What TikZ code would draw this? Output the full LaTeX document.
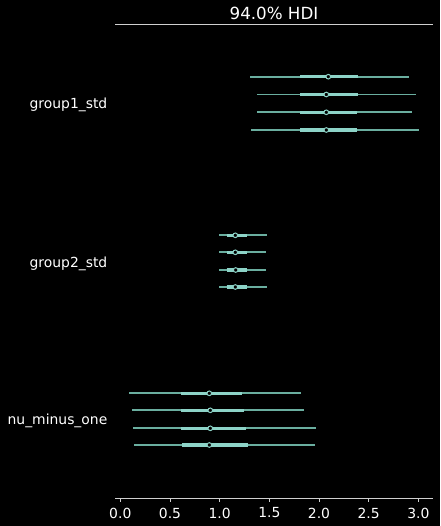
\documentclass[tikz,border=0pt]{standalone}
\usepackage{fontspec}
\setmainfont{DejaVu Sans}
\definecolor{thinc}{HTML}{6AAE9F}
\definecolor{thickc}{HTML}{8DD3C7}
\definecolor{axc}{HTML}{D0D0D0}
\tikzset{
  thinline/.style={draw=thinc, line width=1.9pt},
  thickline/.style={draw=thickc, line width=3.4pt},
  meddot/.style={draw=thickc, fill=black, line width=1pt},
  lbl/.style={text=white, font=\fontsize{13.9}{16}\selectfont, anchor=east, inner sep=0pt},
  ticklbl/.style={text=white, font=\fontsize{13.9}{16}\selectfont, inner sep=0pt},
}
% \hdirow{y}{thin-left}{thick-left}{median}{thick-right}{thin-right}
\newcommand\hdirow[6]{%
  \draw[thinline] (#2,#1) -- (#6,#1);
  \draw[thickline] (#3,#1) -- (#5,#1);
  \filldraw[meddot] (#4,#1) circle (2.3pt);
}
\begin{document}
\begin{tikzpicture}[x=1pt,y=-1pt]
\fill[black] (0,0) rectangle (440,526);
\useasboundingbox (0,0) rectangle (440,526);
% title and top rule
\node[text=white, font=\fontsize{16.7}{19}\selectfont, inner sep=0pt] (title) at (274,13.5) {94.0\% HDI};
\draw[axc, line width=0.8pt] (115,24) -- (433,24);
% group1_std
\hdirow{76.7}{250}{300.3}{328.3}{358.3}{409}
\hdirow{94.5}{257}{300.3}{326.3}{358}{416}
\hdirow{112.3}{257}{300.3}{326.3}{357.3}{412}
\hdirow{130}{251}{300.3}{326.3}{357.3}{419}
% group2_std
\hdirow{235.3}{219}{226.7}{235.3}{246.7}{266.7}
\hdirow{252.3}{219}{226.7}{235.3}{246.7}{265.7}
\hdirow{270}{219}{226.7}{235.7}{247}{266}
\hdirow{287}{219}{226.7}{235.3}{247}{266.7}
% nu_minus_one
\hdirow{393.3}{129}{180.7}{209.3}{242.3}{301}
\hdirow{410.3}{132}{181.3}{210.3}{243.7}{304}
\hdirow{428.3}{133}{181.3}{210.3}{246.3}{316}
\hdirow{445}{134}{182.3}{209.3}{247.7}{315}
% row labels
\node[lbl] (l1) at (107.5,105) {group1\_std};
\node[lbl] (l2) at (107.5,264) {group2\_std};
\node[lbl] (l3) at (107.5,421) {nu\_minus\_one};
% x axis
\draw[axc, line width=0.8pt] (115,498.3) -- (433,498.3);
\foreach \v/\t in {0/0.0,1/0.5,2/1.0,3/1.5,4/2.0,5/2.5,6/3.0}{
  \draw[axc, line width=0.8pt] ({120.3+49.67*\v},498.3) -- ({120.3+49.67*\v},502);
  \node[ticklbl] (t\v) at ({120.3+49.67*\v},513) {\t};
}
\end{tikzpicture}
\end{document}
